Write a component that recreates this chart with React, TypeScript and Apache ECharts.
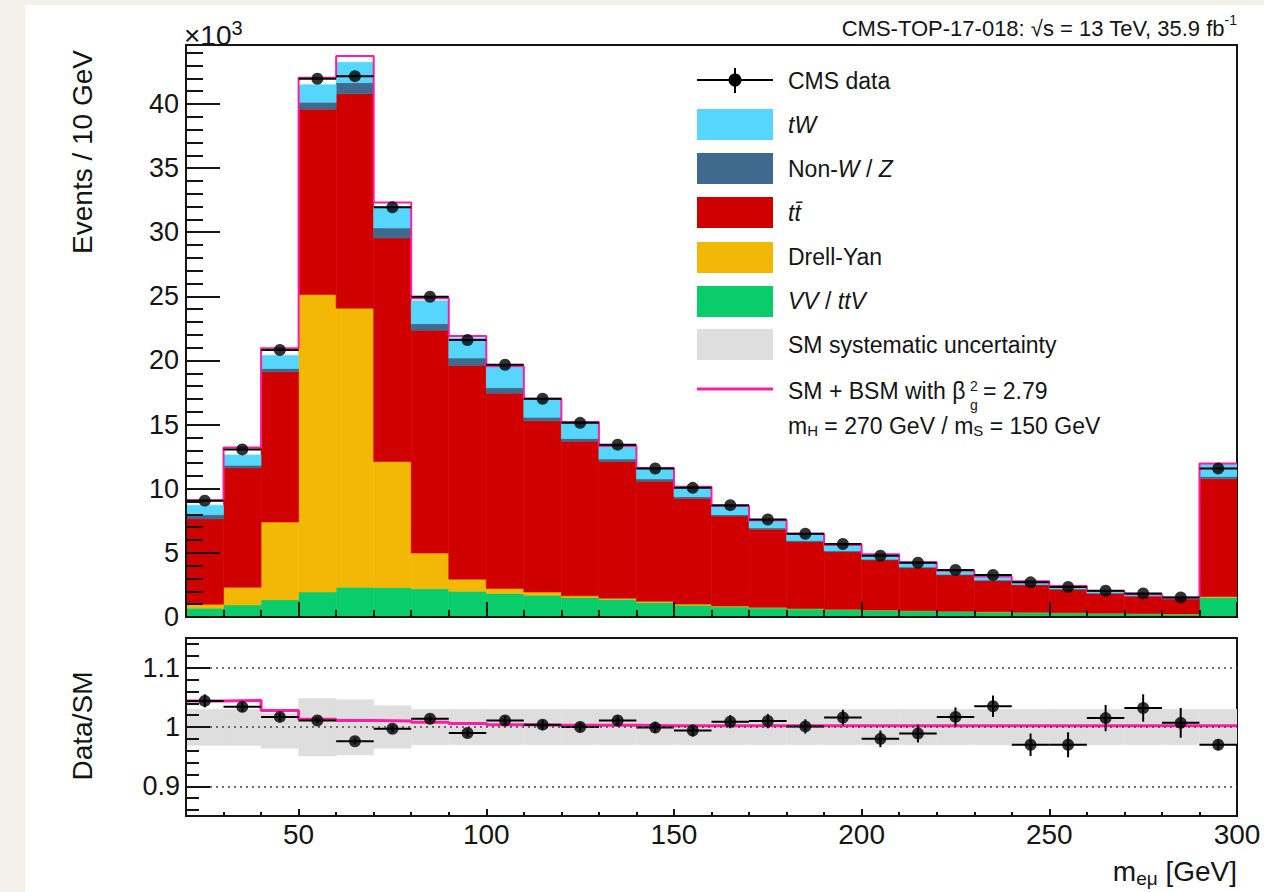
import React, { useEffect, useRef } from 'react';
import * as echarts from 'echarts';

// ---------------- data (events in units of 10^3) ----------------
const binEdges = [20, 30, 40, 50, 60, 70, 80, 90, 100, 110, 120, 130, 140, 150, 160, 170, 180, 190, 200, 210, 220, 230, 240, 250, 260, 270, 280, 290, 300];

const vvttv = [0.68, 0.94, 1.34, 1.95, 2.32, 2.29, 2.20, 2.00, 1.83, 1.69, 1.52, 1.37, 1.12, 0.91, 0.78, 0.70, 0.62, 0.56, 0.50, 0.46, 0.42, 0.38, 0.34, 0.31, 0.28, 0.25, 0.22, 1.53];
const drellYan = [0.32, 1.38, 6.07, 23.19, 21.76, 9.83, 2.79, 0.95, 0.40, 0.26, 0.13, 0.10, 0.10, 0.10, 0.08, 0.06, 0.05, 0.04, 0.04, 0.03, 0.03, 0.03, 0.03, 0.02, 0.02, 0.02, 0.02, 0.07];
const ttbar = [6.65, 9.30, 11.71, 14.46, 16.72, 17.43, 17.36, 16.66, 15.22, 13.35, 12.05, 10.65, 9.37, 8.23, 7.01, 6.09, 5.20, 4.49, 3.90, 3.35, 2.82, 2.42, 2.12, 1.82, 1.54, 1.35, 1.16, 9.17];
const nonWZ = [0.32, 0.21, 0.26, 0.53, 0.86, 0.78, 0.52, 0.58, 0.43, 0.28, 0.22, 0.20, 0.18, 0.14, 0.11, 0.10, 0.09, 0.08, 0.07, 0.06, 0.06, 0.05, 0.05, 0.05, 0.04, 0.04, 0.03, 0.18];
const tW = [0.75, 0.81, 1.01, 1.37, 1.60, 1.67, 1.78, 1.59, 1.60, 1.39, 1.23, 0.98, 0.83, 0.75, 0.66, 0.58, 0.52, 0.43, 0.37, 0.37, 0.27, 0.28, 0.24, 0.21, 0.14, 0.12, 0.09, 0.99];
const cmsData = [9.07, 13.07, 20.82, 41.97, 42.17, 31.95, 24.97, 21.60, 19.67, 17.02, 15.14, 13.44, 11.58, 10.07, 8.72, 7.60, 6.49, 5.69, 4.78, 4.23, 3.66, 3.27, 2.70, 2.34, 2.05, 1.84, 1.53, 11.58];

const dataRatio = [1.044, 1.034, 1.017, 1.011, 0.976, 0.997, 1.014, 0.990, 1.011, 1.004, 1.000, 1.011, 0.999, 0.994, 1.009, 1.010, 1.001, 1.016, 0.980, 0.989, 1.017, 1.035, 0.970, 0.970, 1.015, 1.032, 1.007, 0.970];
const dataRatioErr = [0.011, 0.009, 0.007, 0.005, 0.005, 0.006, 0.006, 0.007, 0.007, 0.008, 0.008, 0.009, 0.009, 0.010, 0.011, 0.012, 0.012, 0.013, 0.014, 0.015, 0.016, 0.018, 0.019, 0.021, 0.022, 0.023, 0.025, 0.009];
const bsmRatio = [1.044, 1.045, 1.028, 1.013, 1.011, 1.010, 1.008, 1.006, 1.004, 1.003, 1.003, 1.003, 1.002, 1.002, 1.002, 1.002, 1.002, 1.002, 1.002, 1.002, 1.002, 1.002, 1.002, 1.002, 1.002, 1.002, 1.002, 1.002];
const systLow = [0.969, 0.969, 0.964, 0.951, 0.953, 0.964, 0.970, 0.970, 0.970, 0.970, 0.970, 0.970, 0.970, 0.970, 0.970, 0.970, 0.970, 0.970, 0.970, 0.970, 0.970, 0.970, 0.970, 0.970, 0.970, 0.970, 0.970, 0.970];
const systHigh = [1.030, 1.030, 1.023, 1.048, 1.046, 1.036, 1.030, 1.030, 1.030, 1.030, 1.030, 1.030, 1.030, 1.030, 1.030, 1.030, 1.030, 1.030, 1.030, 1.030, 1.030, 1.030, 1.030, 1.030, 1.030, 1.030, 1.030, 1.030];

const yMainTicks = [0, 5, 10, 15, 20, 25, 30, 35, 40];
const xMajorTicks = [50, 100, 150, 200, 250, 300];
const ratioMajorTicks = [0.9, 1, 1.1];
const ratioMinorTicks = [0.86, 0.88, 0.9, 0.92, 0.94, 0.96, 0.98, 1.0, 1.02, 1.04, 1.06, 1.08, 1.1, 1.12, 1.14];

// ---------------- styles ----------------
const FONT = '"Liberation Sans", Arial, Helvetica, sans-serif';
const INK = '#151515';
const BEIGE = '#f3efe9';
const MAGENTA = '#ff1ca4';
const C_TW = '#55d6fa';
const C_NONWZ = '#3f6a8e';
const C_TT = '#d10000';
const C_DY = '#f3b705';
const C_VV = '#08cd6a';
const C_SYST = '#dedede';

function buildOption() {
  const nBins = binEdges.length - 1;
  const components = [
    { values: vvttv, color: C_VV },
    { values: drellYan, color: C_DY },
    { values: ttbar, color: C_TT },
    { values: nonWZ, color: C_NONWZ },
    { values: tW, color: C_TW },
  ];
  const cum: number[] = [];
  for (let i = 0; i < nBins; i++) cum.push(0);
  const stackSeries = components.map((c) => {
    const data = c.values.map((v, i) => {
      const b = cum[i];
      cum[i] = b + v;
      return [binEdges[i], binEdges[i + 1], b, b + v];
    });
    return {
      type: 'custom',
      xAxisIndex: 0,
      yAxisIndex: 0,
      z: 1,
      clip: true,
      silent: true,
      data,
      renderItem: (_p: any, api: any) => {
        const a = api.coord([api.value(0), api.value(3)]);
        const b = api.coord([api.value(1), api.value(2)]);
        return {
          type: 'rect',
          shape: { x: a[0], y: a[1], width: b[0] - a[0], height: b[1] - a[1] },
          style: { fill: c.color, stroke: c.color, lineWidth: 0.6 },
        };
      },
    };
  });
  const smTotal = cum.slice();
  const bsmTop = smTotal.map((v, i) => v * bsmRatio[i]);

  const step = (vals: number[]) => {
    const pts: number[][] = [];
    vals.forEach((v, i) => {
      pts.push([binEdges[i], v]);
      pts.push([binEdges[i + 1], v]);
    });
    return pts;
  };

  const errRender = (_p: any, api: any) => {
    const lo = api.value(0), hi = api.value(1), y = api.value(2), e = api.value(3);
    const a = api.coord([lo, y]);
    const b = api.coord([hi, y]);
    const children: any[] = [
      { type: 'line', shape: { x1: a[0], y1: a[1], x2: b[0], y2: b[1] }, style: { stroke: '#000', lineWidth: 2 } },
    ];
    if (e > 0) {
      const xc = (lo + hi) / 2;
      const c = api.coord([xc, y - e]);
      const d = api.coord([xc, y + e]);
      children.push({ type: 'line', shape: { x1: c[0], y1: c[1], x2: d[0], y2: d[1] }, style: { stroke: '#000', lineWidth: 2 } });
    }
    return { type: 'group', children };
  };

  const centers = cmsData.map((_v, i) => (binEdges[i] + binEdges[i + 1]) / 2);

  const tickLine = { color: INK, width: 2 };
  const xBase = { type: 'value', min: 20, max: 300, position: 'bottom', splitLine: { show: false }, z: 10 };
  const labelFont = { color: INK, fontFamily: FONT };

  const legendTextStyle = (text: string, y: number, rich?: any) => ({
    type: 'text',
    x: 788,
    y,
    z: 20,
    silent: true,
    style: {
      text,
      fill: INK,
      fontSize: 23,
      fontFamily: FONT,
      align: 'left',
      verticalAlign: 'middle',
      rich,
    },
  });
  const ital = { i: { fontStyle: 'italic', fontSize: 23, fontFamily: FONT, fill: INK } };
  const legendBox = (y: number, color: string) => ({
    type: 'rect',
    z: 20,
    silent: true,
    shape: { x: 697, y, width: 76, height: 31 },
    style: { fill: color },
  });

  return {
    animation: false,
    backgroundColor: '#ffffff',
    grid: [
      { left: 186, top: 45, width: 1051, height: 572, outerBoundsMode: 'none', containLabel: false, show: true, backgroundColor: '#fff', borderColor: INK, borderWidth: 2 },
      { left: 186, top: 638, width: 1051, height: 178, outerBoundsMode: 'none', containLabel: false, show: true, backgroundColor: '#fff', borderColor: INK, borderWidth: 2 },
    ],
    xAxis: [
      { ...xBase, gridIndex: 0, interval: 10, axisLine: { show: true, onZero: false, lineStyle: tickLine }, axisTick: { show: true, inside: true, length: 7, lineStyle: tickLine }, axisLabel: { show: false } },
      { ...xBase, gridIndex: 0, axisLine: { show: false }, axisTick: { show: true, inside: true, length: 15, customValues: xMajorTicks, lineStyle: tickLine }, axisLabel: { show: false } },
      { ...xBase, gridIndex: 1, interval: 10, axisLine: { show: true, onZero: false, lineStyle: tickLine }, axisTick: { show: true, inside: true, length: 4, lineStyle: tickLine }, axisLabel: { show: false } },
      { ...xBase, gridIndex: 1, axisLine: { show: false }, axisTick: { show: true, inside: true, length: 7, customValues: xMajorTicks, lineStyle: tickLine }, axisLabel: { show: true, customValues: xMajorTicks, fontSize: 28, margin: 4, ...labelFont } },
    ],
    yAxis: [
      { type: 'value', gridIndex: 0, position: 'left', min: 0, max: 44.6, interval: 1, z: 10, splitLine: { show: false }, axisLine: { show: true, onZero: false, lineStyle: tickLine }, axisTick: { show: true, inside: true, length: 17, lineStyle: tickLine }, axisLabel: { show: false } },
      { type: 'value', gridIndex: 0, position: 'left', min: 0, max: 44.6, z: 10, splitLine: { show: false }, axisLine: { show: false }, axisTick: { show: true, inside: true, length: 34, customValues: yMainTicks, lineStyle: tickLine }, axisLabel: { show: true, customValues: yMainTicks, fontSize: 27, margin: 7, ...labelFont } },
      { type: 'value', gridIndex: 1, position: 'left', min: 0.85, max: 1.15, z: 10, splitLine: { show: false }, axisLine: { show: true, onZero: false, lineStyle: tickLine }, axisTick: { show: true, inside: true, length: 13, customValues: ratioMinorTicks, lineStyle: tickLine }, axisLabel: { show: false } },
      { type: 'value', gridIndex: 1, position: 'left', min: 0.85, max: 1.15, z: 10, splitLine: { show: false }, axisLine: { show: false }, axisTick: { show: true, inside: true, length: 24, customValues: ratioMajorTicks, lineStyle: tickLine }, axisLabel: { show: true, customValues: ratioMajorTicks, fontSize: 27, margin: 6, ...labelFont } },
    ],
    series: [
      ...stackSeries,
      {
        type: 'line',
        xAxisIndex: 0,
        yAxisIndex: 0,
        z: 3,
        silent: true,
        symbol: 'none',
        clip: true,
        lineStyle: { color: MAGENTA, width: 2 },
        data: step(bsmTop),
      },
      {
        type: 'custom',
        xAxisIndex: 0,
        yAxisIndex: 0,
        z: 4,
        silent: true,
        clip: true,
        data: cmsData.map((v, i) => [binEdges[i], binEdges[i + 1], v, 0]),
        renderItem: errRender,
      },
      {
        type: 'scatter',
        xAxisIndex: 0,
        yAxisIndex: 0,
        z: 5,
        silent: true,
        symbol: 'circle',
        symbolSize: 12,
        itemStyle: { color: '#000' },
        data: cmsData.map((v, i) => [centers[i], v]),
      },
      // ratio panel
      {
        type: 'custom',
        xAxisIndex: 2,
        yAxisIndex: 2,
        z: 1,
        silent: true,
        clip: true,
        data: systLow.map((lo, i) => [binEdges[i], binEdges[i + 1], lo, systHigh[i]]),
        renderItem: (_p: any, api: any) => {
          const a = api.coord([api.value(0), api.value(3)]);
          const b = api.coord([api.value(1), api.value(2)]);
          return {
            type: 'rect',
            shape: { x: a[0], y: a[1], width: b[0] - a[0], height: b[1] - a[1] },
            style: { fill: C_SYST, stroke: C_SYST, lineWidth: 0.5 },
          };
        },
      },
      {
        type: 'line',
        xAxisIndex: 2,
        yAxisIndex: 2,
        z: 2,
        silent: true,
        symbol: 'none',
        data: [],
        markLine: {
          silent: true,
          symbol: 'none',
          label: { show: false },
          lineStyle: { color: '#444', type: [2, 4], width: 1.6 },
          data: ratioMajorTicks.map((v) => ({ yAxis: v })),
        },
      },
      {
        type: 'line',
        xAxisIndex: 2,
        yAxisIndex: 2,
        z: 3,
        silent: true,
        symbol: 'none',
        clip: true,
        lineStyle: { color: MAGENTA, width: 3 },
        data: step(bsmRatio),
      },
      {
        type: 'custom',
        xAxisIndex: 2,
        yAxisIndex: 2,
        z: 4,
        silent: true,
        clip: true,
        data: dataRatio.map((v, i) => [binEdges[i], binEdges[i + 1], v, dataRatioErr[i]]),
        renderItem: errRender,
      },
      {
        type: 'scatter',
        xAxisIndex: 2,
        yAxisIndex: 2,
        z: 5,
        silent: true,
        symbol: 'circle',
        symbolSize: 12,
        itemStyle: { color: '#000' },
        data: dataRatio.map((v, i) => [centers[i], v]),
      },
    ],
    graphic: [
      { type: 'rect', silent: true, shape: { x: 0, y: 0, width: 25, height: 892 }, style: { fill: BEIGE } },
      { type: 'rect', silent: true, shape: { x: 0, y: 0, width: 1264, height: 5 }, style: { fill: BEIGE } },
      {
        type: 'text', x: 1237, y: 28, silent: true,
        style: {
          text: 'CMS-TOP-17-018: √s = 13 TeV, 35.9 fb{sup|-1}',
          fill: INK, fontSize: 22, fontFamily: FONT, align: 'right', verticalAlign: 'middle', lineHeight: 30,
          rich: { sup: { fontSize: 14, fontFamily: FONT, fill: INK, verticalAlign: 'top', lineHeight: 12 } },
        },
      },
      {
        type: 'text', x: 184, y: 35, silent: true,
        style: {
          text: '×10{sup|3}',
          fill: INK, fontSize: 28, fontFamily: FONT, align: 'left', verticalAlign: 'middle', lineHeight: 34,
          rich: { sup: { fontSize: 20, fontFamily: FONT, fill: INK, verticalAlign: 'top', lineHeight: 16 } },
        },
      },
      {
        type: 'text', x: 82, y: 152, rotation: Math.PI / 2, silent: true,
        style: { text: 'Events / 10 GeV', fill: INK, fontSize: 28, fontFamily: FONT, align: 'center', verticalAlign: 'middle' },
      },
      {
        type: 'text', x: 82, y: 726, rotation: Math.PI / 2, silent: true,
        style: { text: 'Data/SM', fill: INK, fontSize: 28, fontFamily: FONT, align: 'center', verticalAlign: 'middle' },
      },
      {
        type: 'text', x: 1237, y: 871, silent: true,
        style: {
          text: 'm{sub|eμ} [GeV]',
          fill: INK, fontSize: 28, fontFamily: FONT, align: 'right', verticalAlign: 'middle', lineHeight: 34,
          rich: { sub: { fontSize: 19, fontFamily: FONT, fill: INK, verticalAlign: 'bottom', lineHeight: 14 } },
        },
      },
      // legend: CMS data
      { type: 'line', z: 20, silent: true, shape: { x1: 697, y1: 80, x2: 773, y2: 80 }, style: { stroke: '#000', lineWidth: 2 } },
      { type: 'line', z: 20, silent: true, shape: { x1: 735, y1: 68, x2: 735, y2: 93 }, style: { stroke: '#000', lineWidth: 2 } },
      { type: 'circle', z: 21, silent: true, shape: { cx: 735, cy: 80, r: 6.5 }, style: { fill: '#000' } },
      legendTextStyle('CMS data', 81),
      legendBox(109, C_TW),
      legendTextStyle('{i|tW}', 125, ital),
      legendBox(153, C_NONWZ),
      legendTextStyle('Non-{i|W} / {i|Z}', 169, ital),
      legendBox(197, C_TT),
      legendTextStyle('{i|tt\u0304}', 213, ital),
      legendBox(242, C_DY),
      legendTextStyle('Drell-Yan', 257, ital),
      legendBox(286, C_VV),
      legendTextStyle('{i|VV} / {i|ttV}', 301, ital),
      legendBox(329, C_SYST),
      legendTextStyle('SM systematic uncertainty', 345),
      { type: 'line', z: 20, silent: true, shape: { x1: 697, y1: 389, x2: 773, y2: 389 }, style: { stroke: MAGENTA, lineWidth: 3 } },
      legendTextStyle('SM + BSM with β', 391),
      { type: 'text', x: 970, y: 386, z: 20, silent: true, style: { text: '2', fill: INK, fontSize: 14, fontFamily: FONT, align: 'left', verticalAlign: 'middle' } },
      { type: 'text', x: 970, y: 405, z: 20, silent: true, style: { text: 'g', fill: INK, fontSize: 14, fontFamily: FONT, align: 'left', verticalAlign: 'middle' } },
      { type: 'text', x: 983, y: 391, z: 20, silent: true, style: { text: '= 2.79', fill: INK, fontSize: 23, fontFamily: FONT, align: 'left', verticalAlign: 'middle' } },
      legendTextStyle('m{s|H} = 270 GeV / m{s|S} = 150 GeV', 426, {
        s: { fontSize: 15, fontFamily: FONT, fill: INK, verticalAlign: 'bottom', lineHeight: 12 },
      }),
    ],
  };
}

export default function App() {
  const ref = useRef<HTMLDivElement>(null);
  useEffect(() => {
    if (!ref.current) return;
    const chart = echarts.init(ref.current, null, { renderer: 'svg' });
    chart.setOption(buildOption() as any);
    return () => chart.dispose();
  }, []);
  return (
    <div
      ref={ref}
      style={{ position: 'absolute', left: 0, top: 0, width: 1264, height: 892, background: '#fff' }}
    />
  );
}
